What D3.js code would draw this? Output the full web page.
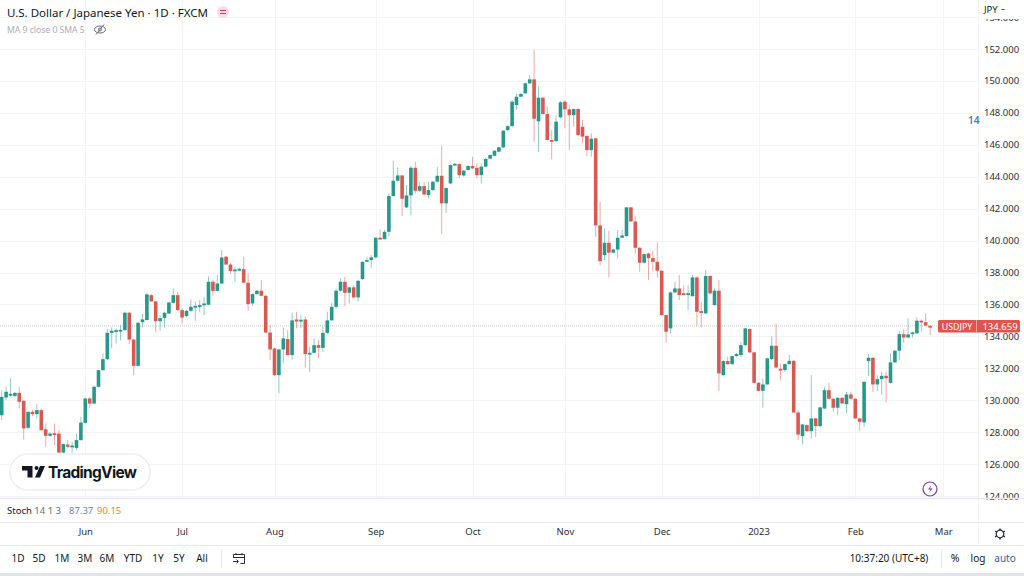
<!DOCTYPE html>
<html>
<head>
<meta charset="utf-8">
<script src="https://cdn.jsdelivr.net/npm/d3@7"></script>
<style>
    html, body { margin: 0; padding: 0; background: #fff; overflow: hidden; }
    svg { display: block; }
    text { font-family: "Noto Sans", sans-serif; fill: #131722; }
</style>
</head>
<body>
<svg id="chart" width="1024" height="576"></svg>
<script>
// one entry per trading day
const opens = [
    129.06,130.17,130.32,130.27,130.46,129.96,128.27,129.27,129.13,129.38,
    128.18,127.77,127.93,127.91,126.72,127.22,127.08,127.01,127.50,128.58,
    130.11,129.79,130.84,131.88,132.57,134.22,134.31,134.35,134.39,135.48,
    133.80,132.15,134.89,135.02,136.58,136.19,134.95,135.16,135.43,136.10,
    136.58,135.64,135.27,135.60,135.83,135.89,135.96,135.98,137.42,136.85,
    137.31,138.99,138.50,138.13,138.17,138.21,137.36,136.06,136.65,136.86,
    136.54,134.24,133.24,131.57,133.18,133.83,132.83,135.06,134.95,135.06,
    132.89,132.97,133.45,133.28,134.22,135.00,135.85,136.86,137.42,136.73,
    137.07,136.44,137.59,138.67,138.78,138.95,140.18,140.09,140.55,142.79,
    143.75,144.08,142.08,142.83,144.56,143.12,143.41,142.85,143.16,143.69,
    144.06,142.33,143.58,144.77,144.79,144.08,144.42,144.67,144.56,144.10,
    144.63,145.13,145.31,145.57,145.84,146.92,147.17,148.49,149.01,149.22,
    149.85,150.10,147.47,148.95,147.93,146.30,146.23,147.72,148.70,148.22,
    147.86,148.24,147.13,146.55,145.67,146.40,140.95,139.09,139.86,139.24,
    139.44,140.18,140.28,142.08,141.20,139.55,138.61,139.19,138.90,138.67,
    138.11,135.33,134.50,136.75,137.00,136.70,136.60,136.52,137.69,135.58,
    135.44,137.78,135.96,136.86,131.57,132.45,132.26,132.76,132.83,133.45,
    134.46,133.00,131.09,130.59,130.99,132.58,133.41,131.97,131.89,132.26,
    132.47,129.23,127.75,128.44,128.06,128.86,128.38,129.48,130.63,130.09,
    129.53,130.15,129.75,130.36,130.09,128.86,128.61,132.45,132.66,130.99,
    131.32,131.53,131.09,132.37,133.10,134.14,133.93,134.19,134.19,134.98,
    134.89,134.66
];
const highs = [
    130.63,130.84,131.36,130.50,130.84,130.00,129.30,129.40,129.75,129.48,
    128.54,128.00,128.54,128.12,127.30,127.50,127.39,127.91,128.96,130.15,
    130.21,130.90,131.92,132.93,134.49,134.56,134.49,134.70,135.55,135.54,
    133.85,134.90,135.43,136.73,136.65,136.22,135.33,135.54,136.17,137.00,
    136.79,135.75,135.65,136.31,136.17,136.27,136.48,137.77,137.56,137.84,
    139.40,139.03,138.57,138.36,138.30,138.99,137.94,136.69,136.90,137.52,
    136.60,134.70,133.30,133.22,134.56,134.39,135.48,135.54,135.33,135.27,
    133.35,133.87,133.76,134.60,135.54,136.10,137.00,137.63,137.73,137.11,
    137.21,137.52,138.70,138.99,139.09,140.20,140.70,140.66,142.96,145.00,
    144.59,144.10,143.48,144.67,144.94,143.69,143.69,143.69,143.73,144.63,
    145.92,143.33,144.77,144.84,144.84,144.42,144.72,145.25,144.83,144.83,
    145.20,145.40,145.67,145.88,146.92,147.21,148.80,149.22,149.25,149.90,
    150.37,151.94,149.64,149.00,148.39,146.92,147.86,148.74,148.80,148.49,
    148.28,148.30,147.55,146.60,146.71,146.45,142.43,140.76,140.61,139.48,
    140.66,140.66,142.12,142.12,141.53,139.60,139.20,139.25,139.36,139.88,
    138.15,135.38,136.80,137.42,137.84,137.21,137.21,137.84,137.75,136.17,
    138.15,137.82,137.00,137.52,132.50,132.72,132.80,132.95,133.66,134.55,
    134.50,133.05,131.13,131.36,132.66,134.00,134.81,132.30,132.30,132.83,
    132.50,129.38,128.52,128.48,131.57,128.90,129.60,130.84,131.09,130.13,
    130.20,130.20,130.53,130.53,130.13,128.90,131.20,132.89,132.70,131.57,
    131.78,131.78,132.93,133.14,134.35,134.43,135.12,134.29,135.19,135.06,
    135.44,134.70
];
const lows = [
    128.75,130.00,130.21,130.20,129.48,127.54,128.20,129.00,128.85,128.10,
    127.08,127.70,127.18,126.70,126.70,126.97,126.70,126.87,127.48,128.55,
    129.52,129.75,130.80,131.84,132.51,133.24,133.55,133.76,134.35,133.51,
    131.57,132.10,134.56,135.00,136.15,134.28,134.35,134.56,135.40,136.06,
    135.60,134.81,135.20,135.54,134.97,135.54,135.33,135.96,136.52,136.79,
    137.27,138.46,137.94,137.42,138.10,137.32,135.60,135.90,136.60,136.50,
    134.20,132.51,131.50,130.42,132.30,132.80,132.55,134.50,134.50,132.05,
    131.78,132.93,132.62,133.03,134.14,134.98,135.75,136.79,135.90,136.06,
    136.38,136.17,137.55,138.65,138.30,138.90,140.07,140.07,140.28,142.75,
    143.70,141.54,142.02,141.60,142.96,143.06,142.85,142.64,143.12,143.58,
    140.41,141.74,143.54,144.71,143.90,144.00,144.38,144.46,143.89,143.58,
    144.60,145.10,145.27,145.53,145.80,146.88,147.13,148.18,148.97,149.18,
    149.80,146.19,145.56,147.88,146.25,145.09,146.19,147.65,147.03,145.67,
    147.13,146.55,146.09,145.29,145.25,140.24,138.46,138.78,137.69,139.20,
    138.88,140.14,140.24,141.16,139.19,138.05,138.55,137.52,138.05,137.69,
    135.29,133.60,134.18,136.69,136.27,136.59,135.65,136.48,134.64,134.60,
    135.40,136.63,135.92,130.59,131.50,132.22,132.22,132.72,132.72,133.40,
    132.95,131.05,130.55,129.53,130.95,132.51,132.00,131.30,131.78,132.22,
    129.20,127.50,127.25,128.00,127.60,127.70,128.33,129.44,130.05,129.28,
    129.07,129.76,129.17,130.05,128.82,128.08,128.33,131.53,130.53,130.57,
    130.36,129.84,131.05,132.33,132.51,133.60,133.90,133.93,134.14,134.29,
    134.64,134.08
];
const closes = [
    130.21,130.53,130.40,130.46,129.90,128.23,129.27,129.13,129.38,128.12,
    127.77,127.91,127.87,126.72,127.25,127.08,127.16,127.50,128.60,130.11,
    129.79,130.84,131.88,132.57,134.22,134.35,134.39,134.41,135.48,133.80,
    132.15,134.85,135.06,136.63,136.19,134.95,135.14,135.48,136.12,136.58,
    135.64,135.18,135.60,135.85,135.91,135.96,136.06,137.42,136.85,137.31,
    138.94,138.50,138.09,138.19,138.23,137.36,136.02,136.65,136.86,136.54,
    134.24,133.18,131.57,133.18,133.87,132.83,135.00,134.93,135.04,132.89,
    132.97,133.45,133.28,134.22,135.00,135.85,136.86,137.42,136.73,137.07,
    136.44,137.48,138.67,138.78,138.95,140.18,140.09,140.55,142.79,143.75,
    144.08,142.62,142.83,144.56,143.12,143.41,142.89,143.16,143.69,144.06,
    142.33,143.29,144.73,144.81,144.10,144.38,144.67,144.52,144.10,144.63,
    145.11,145.36,145.63,145.84,146.88,147.17,148.70,149.01,149.18,149.85,
    150.10,147.63,148.95,147.93,146.30,146.23,147.45,148.66,148.22,147.86,
    148.24,146.61,146.51,145.67,146.38,140.95,138.71,139.86,139.24,139.44,
    140.18,140.32,142.08,141.20,139.55,138.61,139.15,138.90,138.67,138.11,
    135.33,134.29,136.75,137.00,136.59,136.60,136.70,137.69,135.54,135.48,
    137.78,136.69,136.86,131.68,132.45,132.26,132.76,132.89,133.45,134.50,
    133.00,131.09,130.59,130.99,132.62,133.41,132.05,131.89,132.26,132.47,
    129.23,127.85,128.48,128.06,128.86,128.38,129.55,130.63,130.09,129.53,
    130.15,129.80,130.36,130.09,128.86,128.65,131.15,132.66,130.99,131.32,
    131.53,131.38,132.37,133.10,134.14,133.93,134.12,134.25,134.98,134.91,
    134.68,134.659
];

const priceTicks = [124,126,128,130,132,134,136,138,140,142,144,146,148,150,152,154];
const monthLabels = ['Jun','Jul','Aug','Sep','Oct','Nov','Dec','2023','Feb','Mar'];
const monthStarts = [19,41,62,85,107,128,150,172,194,214];
const rangeButtons = ['1D','5D','1M','3M','6M','YTD','1Y','5Y','All'];
const rangeButtonX = [18,39,62,85,107,133,158,179,202];
const lastPrice = 134.659;

const upColor = '#26998b';
const downColor = '#d9584f';
const gridColor = '#f3f4f8';
const lineColor = '#e6e8ee';
const paneRight = 978;

const svg = d3.select('#chart');

const x = d3.scaleLinear().domain([0, 211]).range([1.7, 1.7 + 211 * 4.4]);
const y = d3.scaleLinear().domain([124, 152]).range([496, 49]);

// grid
const grid = svg.append('g');
grid.selectAll('line.h')
    .data(priceTicks)
    .join('line')
    .attr('x1', 0)
    .attr('x2', paneRight)
    .attr('y1', d => Math.round(y(d)) + 0.5)
    .attr('y2', d => Math.round(y(d)) + 0.5)
    .attr('stroke', gridColor);
grid.selectAll('line.v')
    .data(monthStarts)
    .join('line')
    .attr('x1', d => Math.round(x(d)) + 0.5)
    .attr('x2', d => Math.round(x(d)) + 0.5)
    .attr('y1', 0)
    .attr('y2', 498)
    .attr('stroke', gridColor);

// last price line
svg.append('line')
    .attr('x1', 0)
    .attr('x2', 938)
    .attr('y1', y(lastPrice))
    .attr('y2', y(lastPrice))
    .attr('stroke', '#d6d3cf')
    .attr('stroke-width', 1.4)
    .attr('stroke-dasharray', '1 1');

// candles
const candles = svg.append('g')
    .selectAll('g')
    .data(d3.range(opens.length))
    .join('g')
    .attr('fill', i => closes[i] >= opens[i] ? upColor : downColor)
    .attr('stroke', i => closes[i] >= opens[i] ? upColor : downColor);
candles.append('line')
    .attr('x1', i => x(i))
    .attr('x2', i => x(i))
    .attr('y1', i => y(highs[i]))
    .attr('y2', i => y(lows[i]))
    .attr('stroke-opacity', 0.5);
candles.append('rect')
    .attr('x', i => x(i) - 1.8)
    .attr('width', 3.6)
    .attr('y', i => y(Math.max(opens[i], closes[i])))
    .attr('height', i => Math.max(1.8, Math.abs(y(opens[i]) - y(closes[i]))))
    .attr('stroke', 'none');

// price axis
svg.append('clipPath').attr('id', 'axis-clip')
    .append('rect').attr('x', 0).attr('y', 19).attr('width', 46).attr('height', 490);
const priceAxis = svg.append('g')
    .attr('transform', `translate(${ paneRight },0)`)
    .append('g')
    .attr('clip-path', 'url(#axis-clip)')
    .call(d3.axisRight(y).tickValues(priceTicks).tickSize(0).tickPadding(6).tickFormat(d3.format('.3f')));
priceAxis.select('.domain').remove();
priceAxis.selectAll('text')
    .style('font-family', '"Noto Sans", sans-serif')
    .style('font-size', '9.5px')
    .style('fill', '#2a2e39');

svg.append('text').attr('x', 984).attr('y', 13).attr('font-size', 9.5).text('JPY');
svg.append('path').attr('d', 'M1001.5 9.5h3').attr('stroke', '#444');

// right side edge and pane separators
svg.append('line').attr('x1', paneRight + 0.5).attr('x2', paneRight + 0.5).attr('y1', 0).attr('y2', 545).attr('stroke', '#f4f4f6');
for (const yy of [498, 522, 545]) {
    svg.append('line').attr('x1', 0).attr('x2', 1024).attr('y1', yy + 0.5).attr('y2', yy + 0.5)
        .attr('stroke', lineColor).attr('stroke-width', yy === 498 ? 1.5 : 1);
}

// last price label
svg.append('rect').attr('x', 938).attr('y', 320).attr('width', 82).attr('height', 12.5).attr('rx', 1.5).attr('fill', '#e0534e');
svg.append('line').attr('x1', 976.5).attr('x2', 976.5).attr('y1', 320).attr('y2', 332.5).attr('stroke', '#f0a09c');
svg.append('text').attr('x', 957).attr('y', 329.5).attr('text-anchor', 'middle').attr('font-size', 8.8)
    .style('fill', '#fff').text('USDJPY');
svg.append('text').attr('x', 1000).attr('y', 330).attr('text-anchor', 'middle').attr('font-size', 9.5)
    .style('fill', '#fff').text('134.659');

// clipped blue mark beside the axis
svg.append('text').attr('x', 968).attr('y', 124).attr('font-size', 10).attr('font-weight', 600).style('fill', '#3f7fb5').text('14');

// header
svg.append('text').attr('x', 7).attr('y', 16.5).attr('font-size', 11.5)
    .text('U.S. Dollar / Japanese Yen \u00b7 1D \u00b7 FXCM');
svg.append('circle').attr('cx', 223).attr('cy', 12).attr('r', 6).attr('fill', '#fbdde6');
svg.append('path').attr('d', 'M220 10.5h6M220 13.5h6').attr('stroke', '#d6366b').attr('stroke-width', 1);
svg.append('text').attr('x', 7).attr('y', 33).attr('font-size', 8.6).style('fill', '#a9adb6').text('MA 9 close 0 SMA 5');
const eye = svg.append('g').attr('transform', 'translate(100,29.5)').attr('fill', 'none').attr('stroke', '#6a6d78');
eye.append('ellipse').attr('rx', 5.5).attr('ry', 3.5);
eye.append('circle').attr('r', 1.6);
eye.append('line').attr('x1', -4).attr('x2', 4).attr('y1', 5).attr('y2', -5);

// logo pill
svg.append('rect').attr('x', 10).attr('y', 454).attr('width', 140).attr('height', 36).attr('rx', 18)
    .attr('fill', '#fff').attr('stroke', '#eceef2').attr('stroke-width', 1.5);
svg.append('path').attr('d', 'M22 466h10.5v11.5h-5v-7H22zM35 477.5l5-11.5h5l-5 11.5z').attr('fill', '#131722');
svg.append('circle').attr('cx', 36.5).attr('cy', 468).attr('r', 2).attr('fill', '#131722');
svg.append('text').attr('x', 48).attr('y', 478).attr('font-size', 15.5).attr('font-weight', 700)
    .style('font-family', '"Inter", sans-serif').attr('textLength', 89).text('TradingView');

// lightning badge
svg.append('circle').attr('cx', 930).attr('cy', 489).attr('r', 7).attr('fill', '#fff').attr('stroke', '#7b3f98').attr('stroke-width', 1.2);
svg.append('path').attr('d', 'M931.5 485l-3.5 4.5h2.5l-1.5 3.5 3.5-4.5h-2.5z').attr('fill', '#7b3f98');

// stoch legend
const stoch = svg.append('text').attr('x', 7).attr('y', 514).attr('font-size', 9.5);
stoch.append('tspan').text('Stoch ');
stoch.append('tspan').style('fill', '#6a6d78').text('14 1 3');
svg.append('text').attr('x', 69).attr('y', 514).attr('font-size', 9.5).style('fill', '#5b86c4').text('87.37');
svg.append('text').attr('x', 97).attr('y', 514).attr('font-size', 9.5).style('fill', '#e08a2c').text('90.15');

// time axis
const timeAxis = svg.append('g')
    .attr('transform', 'translate(0,522)')
    .call(d3.axisBottom(x).tickValues(monthStarts).tickSize(0).tickPadding(6)
        .tickFormat((d, i) => monthLabels[i]));
timeAxis.select('.domain').remove();
timeAxis.selectAll('text')
    .style('font-family', '"Noto Sans", sans-serif')
    .style('font-size', '9.5px')
    .style('fill', '#2a2e39');

// gear
const gear = svg.append('g').attr('transform', 'translate(1000,534)').attr('fill', 'none').attr('stroke', '#2a2e39');
gear.append('circle').attr('r', 3.8).attr('stroke-width', 1.2);
gear.selectAll('line').data([0, 60, 120, 180, 240, 300]).join('line')
    .attr('y1', -3.8).attr('y2', -5.6).attr('stroke-width', 1.4).attr('transform', d => `rotate(${ d })`);

// bottom toolbar
svg.append('g').selectAll('text')
    .data(rangeButtons)
    .join('text')
    .attr('x', (d, i) => rangeButtonX[i])
    .attr('y', 562)
    .attr('text-anchor', 'middle')
    .attr('font-size', 10)
    .text(d => d);
svg.append('line').attr('x1', 221.5).attr('x2', 221.5).attr('y1', 550).attr('y2', 568).attr('stroke', lineColor);
const cal = svg.append('g').attr('transform', 'translate(233,553)').attr('fill', 'none').attr('stroke', '#2a2e39');
cal.append('path').attr('d', 'M0.5 5V1.5h11v9h-4M0.5 4.5h11M3 0v2M9 0v2M0 8.5h5M3.5 6.5l2 2-2 2');
svg.append('text').attr('x', 889).attr('y', 562).attr('text-anchor', 'middle').attr('font-size', 10).text('10:37:20 (UTC+8)');
svg.append('line').attr('x1', 941.5).attr('x2', 941.5).attr('y1', 550).attr('y2', 568).attr('stroke', lineColor);
svg.append('text').attr('x', 955).attr('y', 562).attr('text-anchor', 'middle').attr('font-size', 10.5).text('%');
svg.append('text').attr('x', 978).attr('y', 562).attr('text-anchor', 'middle').attr('font-size', 10).text('log');
svg.append('text').attr('x', 1005).attr('y', 562).attr('text-anchor', 'middle').attr('font-size', 10).style('fill', '#2962a8').text('auto');
svg.append('rect').attr('x', 0).attr('y', 573).attr('width', 1024).attr('height', 3).attr('fill', '#e2e4ec');
</script>
</body>
</html>
